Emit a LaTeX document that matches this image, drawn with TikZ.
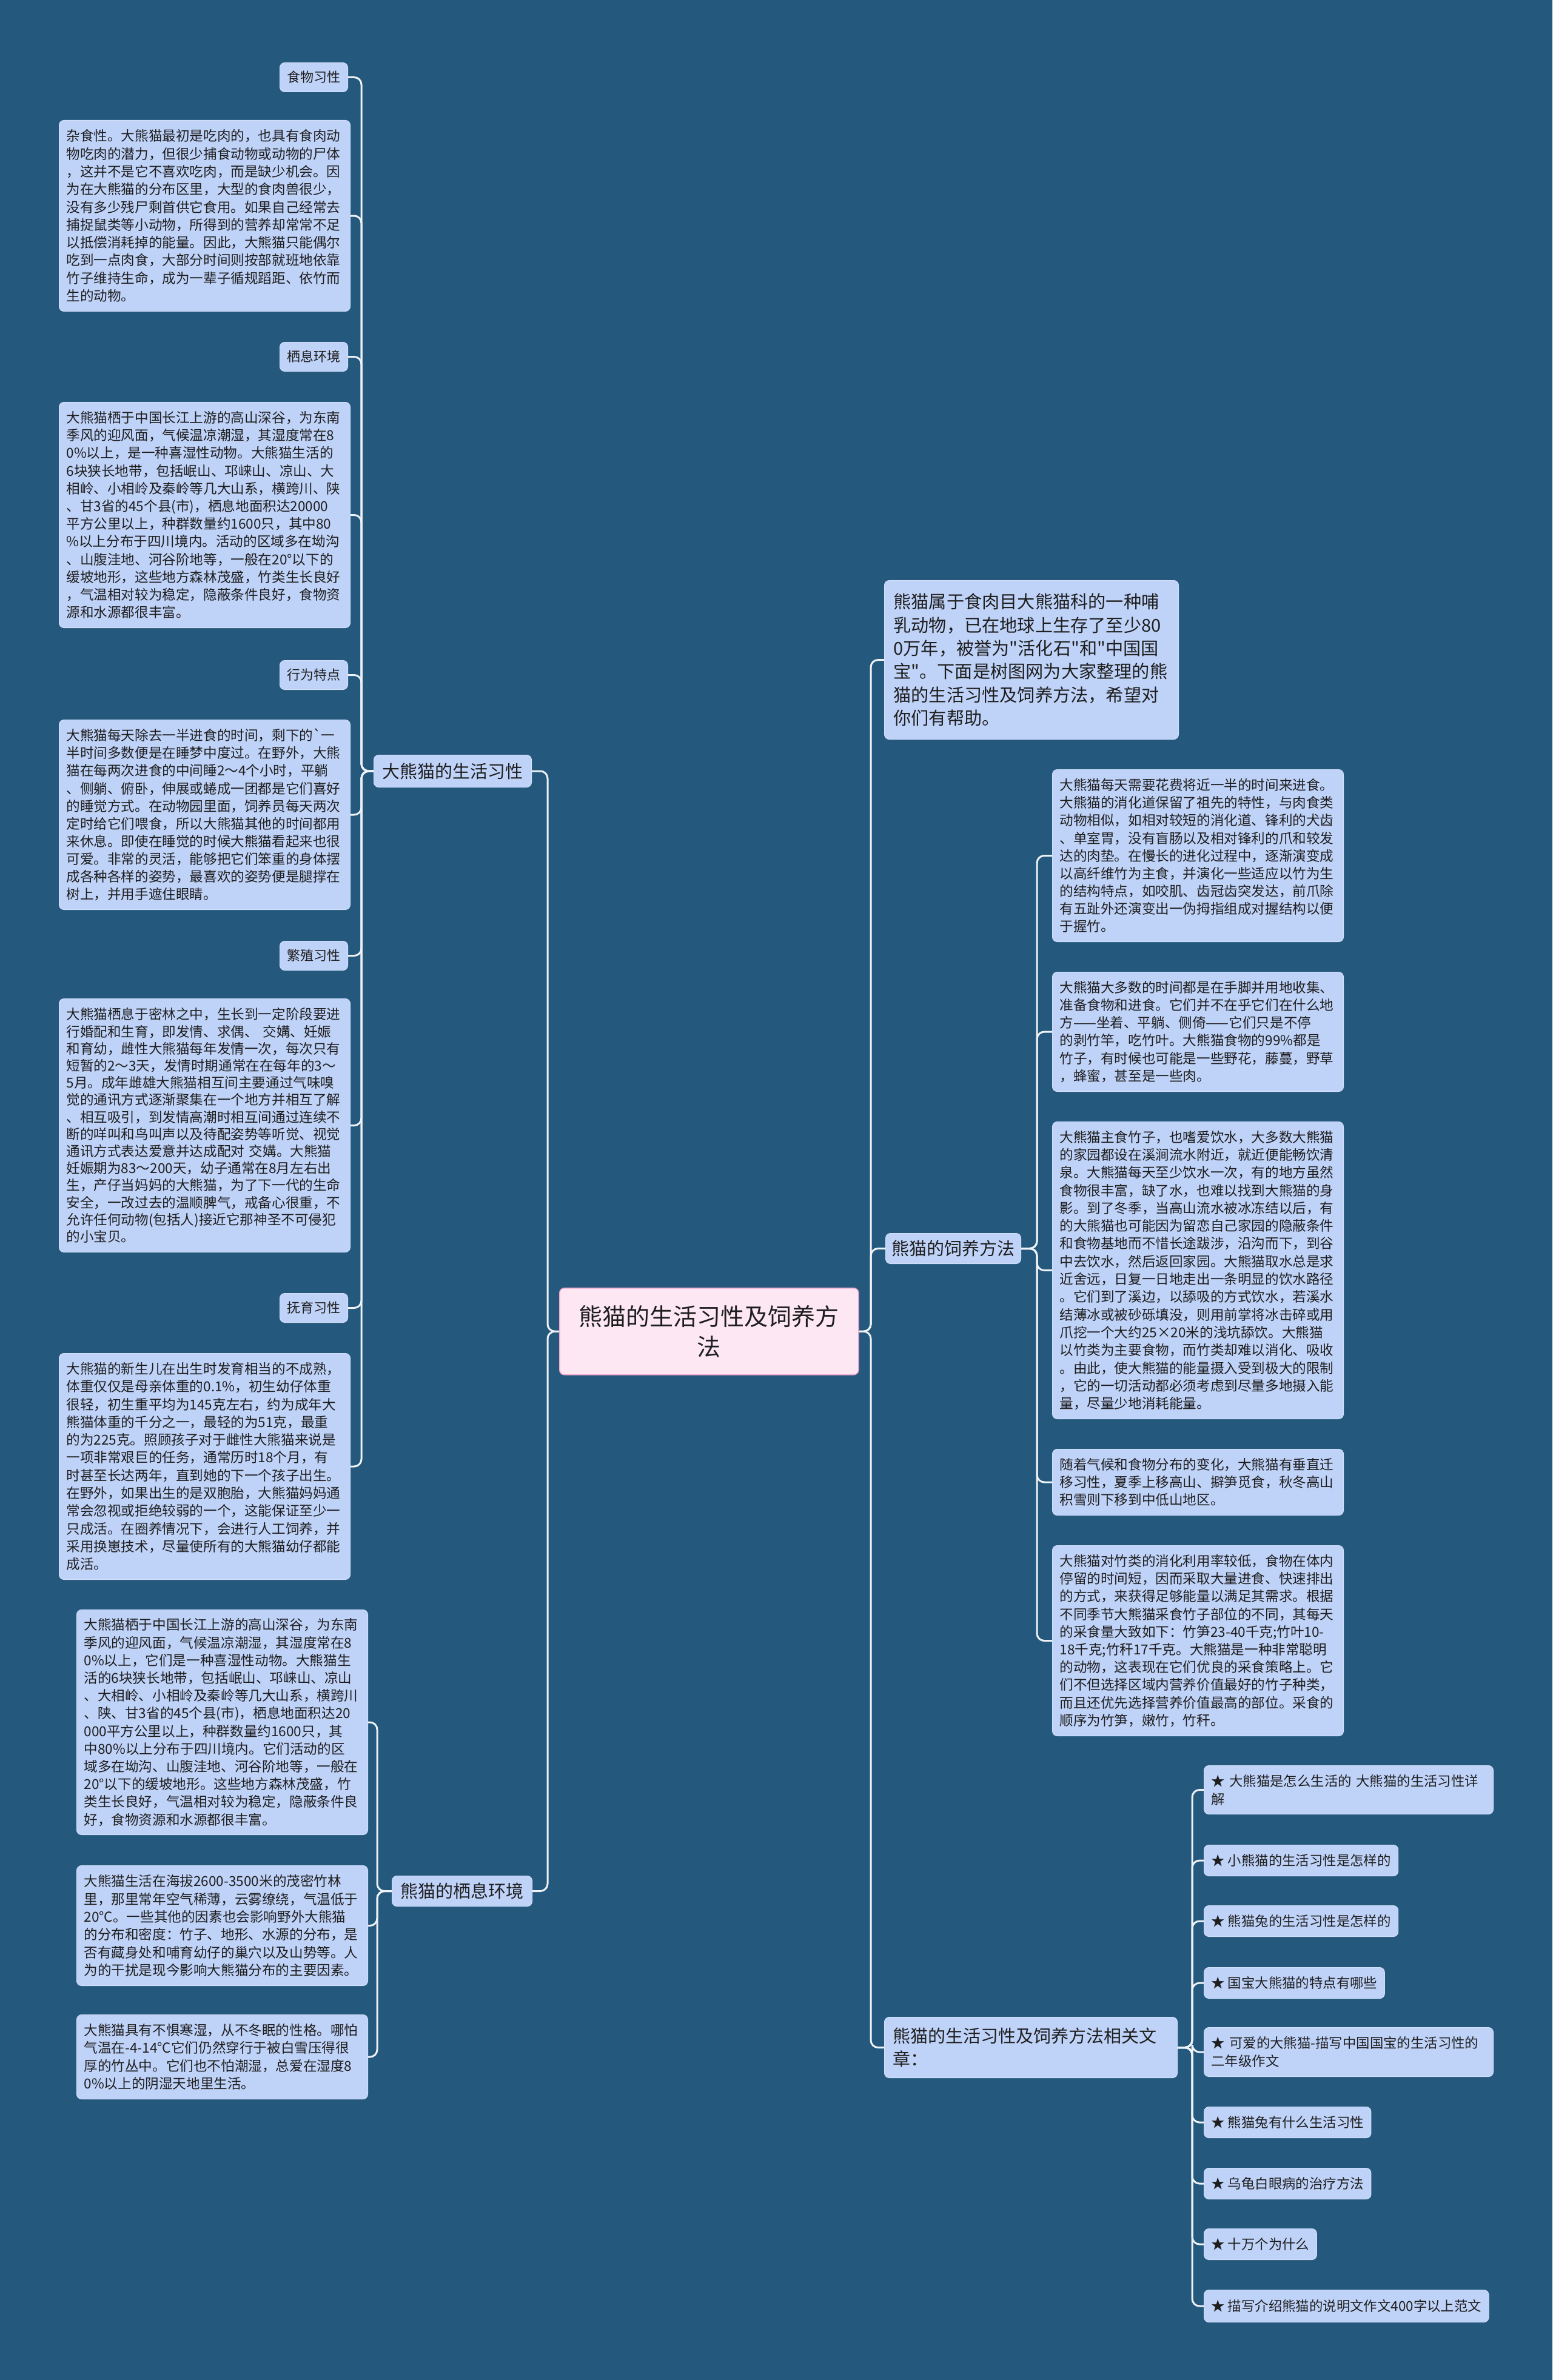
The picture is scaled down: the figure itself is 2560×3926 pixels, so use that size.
\documentclass[tikz,border=0pt]{standalone}
\usepackage{fontspec}
\setmainfont{Noto Sans CJK SC}[Ligatures=TeXOff]
\usetikzlibrary{positioning}
\definecolor{bgBlue}{HTML}{24597D}
\definecolor{boxBlue}{HTML}{BFD2F8}
\definecolor{rootPink}{HTML}{FDE7F3}
\definecolor{rootLine}{HTML}{F2A7CE}
\definecolor{linkGray}{HTML}{EEF1F5}
\definecolor{ink}{HTML}{1E1E1E}

\begin{document}
\begin{tikzpicture}[x=1pt, y=-1pt,
    box/.style={draw=boxBlue!70!white, line width=1pt, fill=boxBlue, rounded corners=8pt,
      text=ink, inner xsep=12pt, inner ysep=0pt, anchor=north west, align=left},
    leaf/.style={box, text width=456pt, font=\fontsize{22.6}{#1}\selectfont},
    tag/.style={box, minimum height=48pt, font=\fontsize{22}{26}\selectfont},
    art/.style={box, font=\fontsize{22.4}{30}\selectfont},
    branch/.style={box, inner xsep=14pt, font=\fontsize{29}{38}\selectfont},
    link/.style={draw=linkGray, line width=3pt, rounded corners=12pt}]
  \fill[bgBlue] (0,0) rectangle (2560,3926);
  \useasboundingbox (0,0) rectangle (2560,3926);

  % root and main branches
  \node[box, fill=rootPink, draw=rootLine, line width=1.5pt, align=center,
    minimum width=493pt, minimum height=143pt, font=\fontsize{39}{50}\selectfont]
    (root) at (922,2124) {熊猫的生活习性及饲养方\\法};
  \node[branch, minimum height=53pt] (life) at (616,1245) {大熊猫的生活习性};
  \node[branch, minimum height=50pt] (home) at (646,3094) {熊猫的栖息环境};
  \node[branch, minimum height=50pt, inner xsep=10pt] (feed) at (1460,2034) {熊猫的饲养方法};
  \node[branch, text width=455pt, minimum height=100pt] (more) at (1458,3327)
    {熊猫的生活习性及饲养方法相关文\\章：};
  \node[box, text width=455pt, inner xsep=15pt, minimum height=262pt,
    font=\fontsize{29.2}{38.3}\selectfont] (intro) at (1458,957)
    {熊猫属于食肉目大熊猫科的一种哺\\乳动物，已在地球上生存了至少80\\0万年，被誉为"活化石"和"中国国\\宝"。下面是树图网为大家整理的熊\\猫的生活习性及饲养方法，希望对\\你们有帮助。};

  % left: life habits
  \node[tag] (k1) at (461,103) {食物习性};
  \node[leaf=29.3, minimum height=315pt] (t1) at (97,198)
    {杂食性。大熊猫最初是吃肉的，也具有食肉动\\物吃肉的潜力，但很少捕食动物或动物的尸体\\，这并不是它不喜欢吃肉，而是缺少机会。因\\为在大熊猫的分布区里，大型的食肉兽很少，\\没有多少残尸剩首供它食用。如果自己经常去\\捕捉鼠类等小动物，所得到的营养却常常不足\\以抵偿消耗掉的能量。因此，大熊猫只能偶尔\\吃到一点肉食，大部分时间则按部就班地依靠\\竹子维持生命，成为一辈子循规蹈距、依竹而\\生的动物。};
  \node[tag] (k2) at (461,564) {栖息环境};
  \node[leaf=29.2, minimum height=372pt] (t2) at (97,663)
    {大熊猫栖于中国长江上游的高山深谷，为东南\\季风的迎风面，气候温凉潮湿，其湿度常在8\\0\%以上，是一种喜湿性动物。大熊猫生活的\\6块狭长地带，包括岷山、邛崃山、凉山、大\\相岭、小相岭及秦岭等几大山系，横跨川、陕\\、甘3省的45个县(市)，栖息地面积达20000\\平方公里以上，种群数量约1600只，其中80\\\%以上分布于四川境内。活动的区域多在坳沟\\、山腹洼地、河谷阶地等，一般在20°以下的\\缓坡地形，这些地方森林茂盛，竹类生长良好\\，气温相对较为稳定，隐蔽条件良好，食物资\\源和水源都很丰富。};
  \node[tag] (k3) at (461,1089) {行为特点};
  \node[leaf=29.1, minimum height=313pt] (t3) at (97,1187)
    {大熊猫每天除去一半进食的时间，剩下的{\char"60}一\\半时间多数便是在睡梦中度过。在野外，大熊\\猫在每两次进食的中间睡2～4个小时，平躺\\、侧躺、俯卧，伸展或蜷成一团都是它们喜好\\的睡觉方式。在动物园里面，饲养员每天两次\\定时给它们喂食，所以大熊猫其他的时间都用\\来休息。即使在睡觉的时候大熊猫看起来也很\\可爱。非常的灵活，能够把它们笨重的身体摆\\成各种各样的姿势，最喜欢的姿势便是腿撑在\\树上，并用手遮住眼睛。};
  \node[tag] (k4) at (461,1552) {繁殖习性};
  \node[leaf=28.2, minimum height=418pt] (t4) at (97,1647)
    {大熊猫栖息于密林之中，生长到一定阶段要进\\行婚配和生育，即发情、求偶、 交媾、妊娠\\和育幼，雌性大熊猫每年发情一次，每次只有\\短暂的2～3天，发情时期通常在在每年的3～\\5月。成年雌雄大熊猫相互间主要通过气味嗅\\觉的通讯方式逐渐聚集在一个地方并相互了解\\、相互吸引，到发情高潮时相互间通过连续不\\断的咩叫和鸟叫声以及待配姿势等听觉、视觉\\通讯方式表达爱意并达成配对 交媾。大熊猫\\妊娠期为83～200天，幼子通常在8月左右出\\生，产仔当妈妈的大熊猫，为了下一代的生命\\安全，一改过去的温顺脾气，戒备心很重，不\\允许任何动物(包括人)接近它那神圣不可侵犯\\的小宝贝。};
  \node[tag] (k5) at (461,2133) {抚育习性};
  \node[leaf=29.3, minimum height=373pt] (t5) at (97,2232)
    {大熊猫的新生儿在出生时发育相当的不成熟，\\体重仅仅是母亲体重的0.1\%，初生幼仔体重\\很轻，初生重平均为145克左右，约为成年大\\熊猫体重的千分之一，最轻的为51克，最重\\的为225克。照顾孩子对于雌性大熊猫来说是\\一项非常艰巨的任务，通常历时18个月，有\\时甚至长达两年，直到她的下一个孩子出生。\\在野外，如果出生的是双胞胎，大熊猫妈妈通\\常会忽视或拒绝较弱的一个，这能保证至少一\\只成活。在圈养情况下，会进行人工饲养，并\\采用换崽技术，尽量使所有的大熊猫幼仔都能\\成活。};

  % left: habitat
  \node[leaf=29.2, minimum height=371pt] (t6) at (126,2655)
    {大熊猫栖于中国长江上游的高山深谷，为东南\\季风的迎风面，气候温凉潮湿，其湿度常在8\\0\%以上，它们是一种喜湿性动物。大熊猫生\\活的6块狭长地带，包括岷山、邛崃山、凉山\\、大相岭、小相岭及秦岭等几大山系，横跨川\\、陕、甘3省的45个县(市)，栖息地面积达20\\000平方公里以上，种群数量约1600只，其\\中80\%以上分布于四川境内。它们活动的区\\域多在坳沟、山腹洼地、河谷阶地等，一般在\\20°以下的缓坡地形。这些地方森林茂盛，竹\\类生长良好，气温相对较为稳定，隐蔽条件良\\好，食物资源和水源都很丰富。};
  \node[leaf=29.4, minimum height=198pt] (t7) at (126,3077)
    {大熊猫生活在海拔2600-3500米的茂密竹林\\里，那里常年空气稀薄，云雾缭绕，气温低于\\20°C。一些其他的因素也会影响野外大熊猫\\的分布和密度：竹子、地形、水源的分布，是\\否有藏身处和哺育幼仔的巢穴以及山势等。人\\为的干扰是现今影响大熊猫分布的主要因素。};
  \node[leaf=29.3, minimum height=139pt] (t8) at (126,3323)
    {大熊猫具有不惧寒湿，从不冬眠的性格。哪怕\\气温在-4-14°C它们仍然穿行于被白雪压得很\\厚的竹丛中。它们也不怕潮湿，总爱在湿度8\\0\%以上的阴湿天地里生活。};

  % right: feeding
  \node[leaf=29.1, minimum height=284pt] (r1) at (1735,1269)
    {大熊猫每天需要花费将近一半的时间来进食。\\大熊猫的消化道保留了祖先的特性，与肉食类\\动物相似，如相对较短的消化道、锋利的犬齿\\、单室胃，没有盲肠以及相对锋利的爪和较发\\达的肉垫。在慢长的进化过程中，逐渐演变成\\以高纤维竹为主食，并演化一些适应以竹为生\\的结构特点，如咬肌、齿冠齿突发达，前爪除\\有五趾外还演变出一伪拇指组成对握结构以便\\于握竹。};
  \node[leaf=29.2, minimum height=197pt] (r2) at (1735,1603)
    {大熊猫大多数的时间都是在手脚并用地收集、\\准备食物和进食。它们并不在乎它们在什么地\\方——坐着、平躺、侧倚——它们只是不停\\的剥竹竿，吃竹叶。大熊猫食物的99\%都是\\竹子，有时候也可能是一些野花，藤蔓，野草\\，蜂蜜，甚至是一些肉。};
  \node[leaf=29.3, minimum height=490pt] (r3) at (1735,1850)
    {大熊猫主食竹子，也嗜爱饮水，大多数大熊猫\\的家园都设在溪涧流水附近，就近便能畅饮清\\泉。大熊猫每天至少饮水一次，有的地方虽然\\食物很丰富，缺了水，也难以找到大熊猫的身\\影。到了冬季，当高山流水被冰冻结以后，有\\的大熊猫也可能因为留恋自己家园的隐蔽条件\\和食物基地而不惜长途跋涉，沿沟而下，到谷\\中去饮水，然后返回家园。大熊猫取水总是求\\近舍远，日复一日地走出一条明显的饮水路径\\。它们到了溪边，以舔吸的方式饮水，若溪水\\结薄冰或被砂砾填没，则用前掌将冰击碎或用\\爪挖一个大约25×20米的浅坑舔饮。大熊猫\\以竹类为主要食物，而竹类却难以消化、吸收\\。由此，使大熊猫的能量摄入受到极大的限制\\，它的一切活动都必须考虑到尽量多地摄入能\\量，尽量少地消耗能量。};
  \node[leaf=29, minimum height=109pt] (r4) at (1735,2390)
    {随着气候和食物分布的变化，大熊猫有垂直迁\\移习性，夏季上移高山、擗笋觅食，秋冬高山\\积雪则下移到中低山地区。};
  \node[leaf=29.2, minimum height=314pt] (r5) at (1735,2549)
    {大熊猫对竹类的消化利用率较低，食物在体内\\停留的时间短，因而采取大量进食、快速排出\\的方式，来获得足够能量以满足其需求。根据\\不同季节大熊猫采食竹子部位的不同，其每天\\的采食量大致如下：竹笋23-40千克;竹叶10-\\18千克;竹秆17千克。大熊猫是一种非常聪明\\的动物，这表现在它们优良的采食策略上。它\\们不但选择区域内营养价值最好的竹子种类，\\而且还优先选择营养价值最高的部位。采食的\\顺序为竹笋，嫩竹，竹秆。};

  % right: related articles
  \node[art, text width=453pt, minimum height=80pt] (a1) at (1985,2912) {★ 大熊猫是怎么生活的 大熊猫的生活习性详\\解};
  \node[art, minimum height=51pt] (a2) at (1985,3043) {★ 小熊猫的生活习性是怎样的};
  \node[art, minimum height=51pt] (a3) at (1985,3143) {★ 熊猫兔的生活习性是怎样的};
  \node[art, minimum height=51pt] (a4) at (1985,3245) {★ 国宝大熊猫的特点有哪些};
  \node[art, text width=453pt, minimum height=81pt] (a5) at (1985,3344) {★ 可爱的大熊猫-描写中国国宝的生活习性的\\二年级作文};
  \node[art, minimum height=51pt] (a6) at (1985,3475) {★ 熊猫兔有什么生活习性};
  \node[art, minimum height=51pt] (a7) at (1985,3576) {★ 乌龟白眼病的治疗方法};
  \node[art, minimum height=51pt] (a8) at (1985,3676) {★ 十万个为什么};
  \node[art, minimum height=53pt] (a9) at (1985,3777) {★ 描写介绍熊猫的说明文作文400字以上范文};

  % spines
  \coordinate (spL) at (903,0);
  \coordinate (spR) at (1436,0);
  \coordinate (spLife) at (596,0);
  \coordinate (spHome) at (622,0);
  \coordinate (spFeed) at (1710,0);
  \coordinate (spMore) at (1966,0);

  % connectors
  \foreach \n in {life,home}
    \draw[link] (root.west) -- (spL |- root.west) -- (spL |- \n.east) -- (\n.east);
  \foreach \n in {intro,feed,more}
    \draw[link] (root.east) -- (spR |- root.east) -- (spR |- \n.west) -- (\n.west);
  \foreach \n in {k1,t1,k2,t2,k3,t3,k4,t4,k5,t5}
    \draw[link] (life.west) -- (spLife |- life.west) -- (spLife |- \n.east) -- (\n.east);
  \foreach \n in {t6,t7,t8}
    \draw[link] (home.west) -- (spHome |- home.west) -- (spHome |- \n.east) -- (\n.east);
  \foreach \n in {r1,r2,r3,r4,r5}
    \draw[link] (feed.east) -- (spFeed |- feed.east) -- (spFeed |- \n.west) -- (\n.west);
  \foreach \n in {a1,a2,a3,a4,a5,a6,a7,a8,a9}
    \draw[link] (more.east) -- (spMore |- more.east) -- (spMore |- \n.west) -- (\n.west);
\end{tikzpicture}
\end{document}
